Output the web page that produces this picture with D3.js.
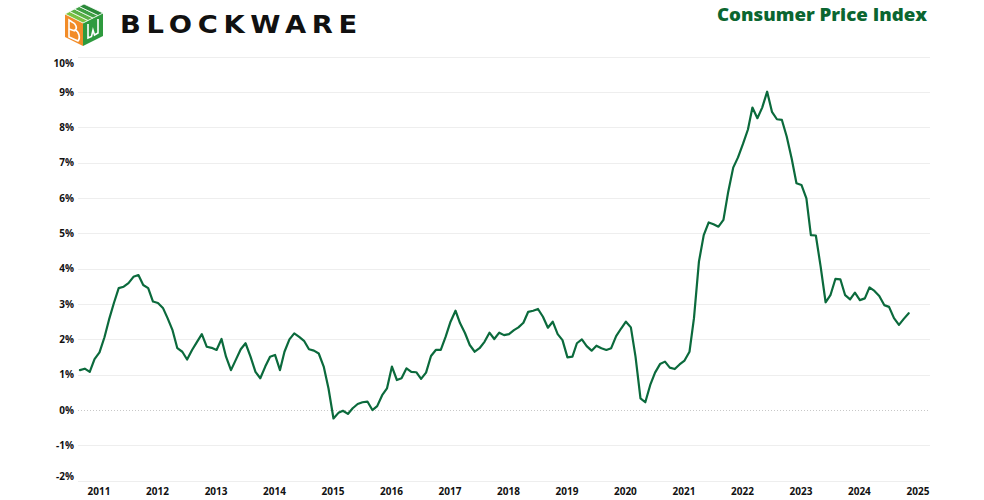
<!DOCTYPE html>
<html>
<head>
<meta charset="utf-8">
<script src="https://cdn.jsdelivr.net/npm/d3@7"></script>
<style>
  html, body { margin: 0; padding: 0; background: #ffffff; }
  svg { display: block; }
</style>
</head>
<body>
<svg id="chart" width="984" height="500"></svg>
<script>
// ---------------- DATA ----------------
const title = "Consumer Price Index";
const brand = "BLOCKWARE";
const startYear = 2010, startMonth = 8; // first observation: Sep 2010 (0-based month)
const cpiYoY = [
  // 2010 Sep-Dec
  1.13, 1.17, 1.08, 1.44,
  // 2011
  1.63, 2.06, 2.55, 3.03, 3.45, 3.49, 3.59, 3.77, 3.82, 3.54, 3.45, 3.07,
  // 2012
  3.03, 2.89, 2.60, 2.26, 1.75, 1.65, 1.43, 1.70, 1.93, 2.15, 1.79, 1.76,
  // 2013
  1.70, 2.01, 1.51, 1.13, 1.42, 1.72, 1.89, 1.51, 1.08, 0.90, 1.23, 1.51,
  // 2014
  1.56, 1.13, 1.65, 2.00, 2.17, 2.07, 1.96, 1.72, 1.68, 1.60, 1.23, 0.61,
  // 2015
  -0.24, -0.08, -0.02, -0.11, 0.05, 0.17, 0.22, 0.24, 0.00, 0.11, 0.42, 0.61,
  // 2016
  1.23, 0.85, 0.90, 1.18, 1.08, 1.07, 0.88, 1.06, 1.53, 1.70, 1.70, 2.07,
  // 2017
  2.50, 2.81, 2.46, 2.18, 1.84, 1.65, 1.75, 1.93, 2.19, 2.01, 2.19, 2.12,
  // 2018
  2.15, 2.26, 2.34, 2.47, 2.78, 2.81, 2.86, 2.64, 2.33, 2.50, 2.15, 1.98,
  // 2019
  1.49, 1.51, 1.89, 2.00, 1.81, 1.68, 1.82, 1.75, 1.70, 1.75, 2.09, 2.30,
  // 2020
  2.50, 2.34, 1.51, 0.33, 0.22, 0.71, 1.06, 1.30, 1.37, 1.20, 1.16, 1.29,
  // 2021
  1.40, 1.65, 2.60, 4.20, 4.95, 5.31, 5.26, 5.19, 5.38, 6.18, 6.86, 7.15,
  // 2022
  7.53, 7.94, 8.56, 8.26, 8.56, 9.01, 8.44, 8.23, 8.21, 7.74, 7.12, 6.42,
  // 2023
  6.37, 5.99, 4.95, 4.94, 4.06, 3.05, 3.25, 3.71, 3.70, 3.25, 3.13, 3.32,
  // 2024 Jan-Nov
  3.11, 3.16, 3.47, 3.37, 3.23, 2.97, 2.92, 2.60, 2.41, 2.58, 2.74
];
const yTicks = [-2, -1, 0, 1, 2, 3, 4, 5, 6, 7, 8, 9, 10];
const xTickYears = [2011, 2012, 2013, 2014, 2015, 2016, 2017, 2018, 2019, 2020, 2021, 2022, 2023, 2024, 2025];

// ---------------- SETUP ----------------
const svg = d3.select("#chart");
const plot = { left: 78, right: 930, top: 56.7, bottom: 480.7 };

const data = cpiYoY.map((v, i) => ({ date: new Date(startYear, startMonth + i, 1), value: v }));

const x = d3.scaleTime()
  .domain([new Date(2011, 0, 1), new Date(2025, 0, 1)])
  .range([99.5, 918.5]);
const y = d3.scaleLinear()
  .domain([-2, 10])
  .range([plot.bottom, plot.top]);

// ---------------- GRID ----------------
const grid = svg.append("g");
grid.selectAll("line")
  .data(yTicks)
  .join("line")
  .attr("x1", plot.left)
  .attr("x2", plot.right)
  .attr("y1", d => Math.round(y(d)) + 0.5)
  .attr("y2", d => Math.round(y(d)) + 0.5)
  .attr("stroke", d => d === 0 ? "#c8c8c8" : "#eeeeee")
  .attr("stroke-dasharray", d => d === 0 ? "1,2" : null)
  .attr("stroke-width", 1);

// ---------------- AXES ----------------
const fontFam = "'Open Sans', 'Noto Sans', sans-serif";

const yAxis = d3.axisLeft(y).tickValues(yTicks).tickSize(0).tickPadding(0)
  .tickFormat(d => d + "%");
const gy = svg.append("g").attr("transform", "translate(74,0)").call(yAxis);
gy.select(".domain").remove();
gy.selectAll(".tick text")
  .attr("font-family", fontFam)
  .attr("font-weight", 700)
  .attr("font-size", 10)
  .attr("fill", "#111")
  .attr("dy", d => d === 10 ? "0.95em" : d === -2 ? "-0.15em" : "0.32em");

const xAxis = d3.axisBottom(x)
  .tickValues(xTickYears.map(yr => new Date(yr, 0, 1)))
  .tickSize(0).tickPadding(0)
  .tickFormat(d3.timeFormat("%Y"));
const gx = svg.append("g").attr("transform", "translate(-1,488)").call(xAxis);
gx.select(".domain").remove();
gx.selectAll(".tick text")
  .attr("font-family", fontFam)
  .attr("font-weight", 700)
  .attr("font-size", 10)
  .attr("fill", "#111");

// ---------------- LINE ----------------
const line = d3.line()
  .x(d => x(d.date))
  .y(d => y(d.value));

svg.append("path")
  .datum(data)
  .attr("fill", "none")
  .attr("stroke", "#0b6a3c")
  .attr("stroke-width", 2.2)
  .attr("stroke-linejoin", "round")
  .attr("stroke-linecap", "round")
  .attr("d", line);

// ---------------- TITLE ----------------
svg.append("text")
  .attr("x", 927)
  .attr("y", 21)
  .attr("text-anchor", "end")
  .attr("font-family", fontFam)
  .attr("font-weight", 800)
  .attr("font-size", 18)
  .attr("fill", "#0b6631")
  .attr("textLength", 210)
  .attr("lengthAdjust", "spacingAndGlyphs")
  .text(title);

// ---------------- LOGO ----------------
const logo = svg.append("g");
logo.append("path")
  .attr("d", "M65,14 L83,23 L83,46 L65,37 Z")
  .attr("fill", "#f28c28");
logo.append("path")
  .attr("d", "M83,23 L103,13 L103,36 L83,46 Z")
  .attr("fill", "#2e9a3e");
const stripeColors = ["#7cc242", "#5bb046", "#3fa043", "#2b8a3a"];
stripeColors.forEach((c, i) => {
  const t0 = i / 4, t1 = (i + 1) / 4;
  const lerp = (a, b, t) => [a[0] + (b[0] - a[0]) * t, a[1] + (b[1] - a[1]) * t];
  const L = [65, 14], T = [84, 4], R = [103, 13], C = [83, 23];
  const p1 = lerp(L, T, t0), p2 = lerp(L, T, t1), p3 = lerp(C, R, t1), p4 = lerp(C, R, t0);
  logo.append("path")
    .attr("d", `M${p1} L${p2} L${p3} L${p4} Z`)
    .attr("fill", c)
    .attr("stroke", "#ffffff")
    .attr("stroke-width", 0.8);
});
logo.append("path")
  .attr("d", "M69,20 L69,37 L78,41 Q80,39 79,35 Q78,31 75,30 Q77,29 76,26 Q75,23 72,22 Z")
  .attr("fill", "none").attr("stroke", "#ffffff").attr("stroke-width", 1.6);
logo.append("path")
  .attr("d", "M69,29 L75,31")
  .attr("fill", "none").attr("stroke", "#ffffff").attr("stroke-width", 1.4);
logo.append("path")
  .attr("d", "M88,24 L88,38 L91.5,36.5 L93,30 L94.5,35 L98,33 L98,19")
  .attr("fill", "none").attr("stroke", "#ffffff").attr("stroke-width", 1.6);

svg.append("text")
  .attr("x", 120)
  .attr("y", 33)
  .attr("font-family", "'DejaVu Sans', sans-serif")
  .attr("font-weight", 700)
  .attr("font-size", 24)
  .attr("letter-spacing", 5)
  .attr("fill", "#111111")
  .attr("textLength", 243)
  .attr("lengthAdjust", "spacingAndGlyphs")
  .text(brand);
</script>
</body>
</html>
